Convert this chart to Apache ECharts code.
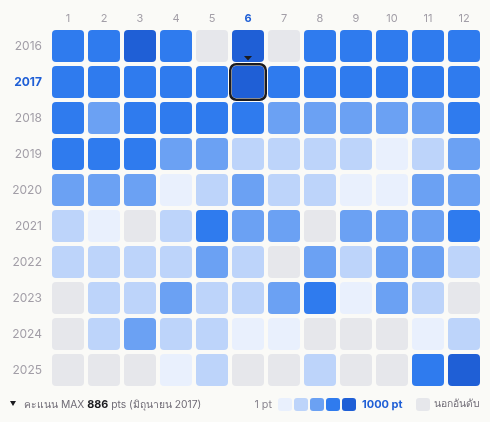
<!DOCTYPE html>
<html><head><meta charset="utf-8">
<script src="https://cdn.jsdelivr.net/npm/echarts@6/dist/echarts.min.js"></script>
<style>html,body{margin:0;padding:0;background:#FAFAF7}#c{width:490px;height:422px}</style>
</head><body><div id="c"></div>
<script>
const months = ['1','2','3','4','5','6','7','8','9','10','11','12'];
const thaiMonths = ['มกราคม','กุมภาพันธ์','มีนาคม','เมษายน','พฤษภาคม','มิถุนายน','กรกฎาคม','สิงหาคม','กันยายน','ตุลาคม','พฤศจิกายน','ธันวาคม'];
const years = ['2016','2017','2018','2019','2020','2021','2022','2023','2024','2025'];
// points per month (null = unranked)
const s2016 = [182,205,512,168,null,604,null,190,175,221,160,198];
const s2017 = [214,236,197,188,226,886,202,218,240,195,210,230];
const s2018 = [150,48,132,120,141,110,42,38,45,52,36,96];
const s2019 = [88,105,92,40,34,12,9,11,8,3,10,28];
const s2020 = [30,26,33,3,9,24,8,7,2,3,31,22];
const s2021 = [11,3,null,9,84,27,22,null,25,29,21,74];
const s2022 = [7,10,8,12,19,9,null,21,10,26,20,8];
const s2023 = [null,8,11,23,9,7,18,70,2,24,9,null];
const s2024 = [null,6,27,10,7,2,3,null,null,null,2,9];
const s2025 = [null,null,null,3,12,null,null,8,null,null,115,420];
const rows = [s2016,s2017,s2018,s2019,s2020,s2021,s2022,s2023,s2024,s2025];
const scaleColors = ['#E9F0FD','#BDD4FA','#6BA1F3','#2F7BEE','#1F5FD6'];
const scaleEdges = [1,4,16,63,251,1000];
const greyColor = '#E6E7EB';

const data = [];
let maxV = -1, maxM = 0, maxY = 0;
rows.forEach((r, yi) => r.forEach((v, mi) => {
  data.push([mi, yi, v == null ? '-' : v]);
  if (v != null && v > maxV) { maxV = v; maxM = mi; maxY = yi; }
}));

const pieces = scaleColors.map((c, i) => ({gte: scaleEdges[i], lt: scaleEdges[i+1] + (i === 4 ? 1 : 0), color: c}));

const chart = echarts.init(document.getElementById('c'), null, {renderer: 'canvas'});
const labelGrey = '#A29EA7';
const blue = '#1F5FD6';
const ff = 'Inter, sans-serif';
const fs = 10.3;

const swX = 278, swY = 398, swW = 14, swH = 13, swGap = 2;
const graphics = [
  {type:'polygon', shape:{points:[[10,401],[16,401],[13,406]]}, style:{fill:'#1b1b1f'}},
  {type:'text', left: 24, top: 399, style:{
    text: '{a|คะแนน MAX }{b|' + maxV + '}{a| pts (' + thaiMonths[maxM] + ' ' + years[maxY] + ')}',
    rich: {a:{fontSize:fs, fill:'#6F6B75', fontFamily:ff}, b:{fontSize:fs+0.5, fontWeight:'bold', fill:'#1b1b1f', fontFamily:ff}}
  }},
  {type:'text', right: 490-272, top: 399, style:{text:'1 pt', fontSize:fs+0.5, fill:'#8A8690', fontFamily:ff}},
];
scaleColors.forEach((c, i) => graphics.push({type:'rect', shape:{x: swX + i*(swW+swGap), y: swY, width: swW, height: swH, r: 3}, style:{fill:c}}));
graphics.push({type:'text', left: 362, top: 399, style:{text:'1000 pt', fontSize:fs+0.7, fontWeight:'bold', fill: blue, fontFamily:ff}});
graphics.push({type:'rect', shape:{x: 416, y: swY, width: swW, height: swH, r: 3}, style:{fill: greyColor}});
graphics.push({type:'text', left: 434, top: 399, style:{text:'นอกอันดับ', fontSize:fs, fill:'#6F6B75', fontFamily:ff}});

chart.setOption({
  backgroundColor: '#FAFAF7',
  animation: false,
  grid: {left: 50, top: 28, width: 432, height: 360},
  xAxis: {type:'category', data: months, position:'top',
    axisLine:{show:false}, axisTick:{show:false}, splitLine:{show:false},
    axisLabel:{margin: 4, fontSize: 11, color: labelGrey, fontFamily: ff,
      formatter: (v, i) => i === maxM ? '{h|' + v + '}' : v,
      rich:{h:{fontSize:11, fontWeight:'bold', color: blue, fontFamily: ff}}}},
  yAxis: {type:'category', data: years, inverse: true,
    axisLine:{show:false}, axisTick:{show:false}, splitLine:{show:false},
    axisLabel:{margin: 8, fontSize: 12, color: labelGrey, fontFamily: ff,
      formatter: (v, i) => i === maxY ? '{h|' + v + '}' : v,
      rich:{h:{fontSize:12, fontWeight:'bold', color: blue, fontFamily: ff}}}},
  visualMap: {show:false, type:'piecewise', dimension: 2, seriesIndex: 0, pieces: pieces, outOfRange:{color: greyColor}},
  series: [{
    type: 'custom',
    data: data,
    encode: {x: 0, y: 1},
    renderItem: function (params, api) {
      const mi = api.value(0), yi = api.value(1), v = api.value(2);
      const p = api.coord([mi, yi]);
      const sz = api.size([1, 1]);
      const x = p[0] - sz[0]/2 + 2, y = p[1] - sz[1]/2 + 2, w = sz[0] - 4, h = sz[1] - 4;
      const fill = (v == null || isNaN(v)) ? greyColor : api.visual('color');
      const children = [{type:'rect', shape:{x, y, width:w, height:h, r:4}, style:{fill}}];
      if (mi === maxM && yi === maxY) {
        children.push({type:'rect', shape:{x: x-1.75, y: y-1.75, width: w+3.5, height: h+3.5, r: 6}, style:{fill:'none', stroke:'#1b1b1f', lineWidth: 2.5}});
        const cx = p[0];
        children.push({type:'polygon', shape:{points:[[cx-4, y-10],[cx+4, y-10],[cx, y-5.5]]}, style:{fill:'#1b1b1f'}});
      }
      return {type:'group', children};
    }
  }],
  graphic: graphics
});
</script>
</body></html>
